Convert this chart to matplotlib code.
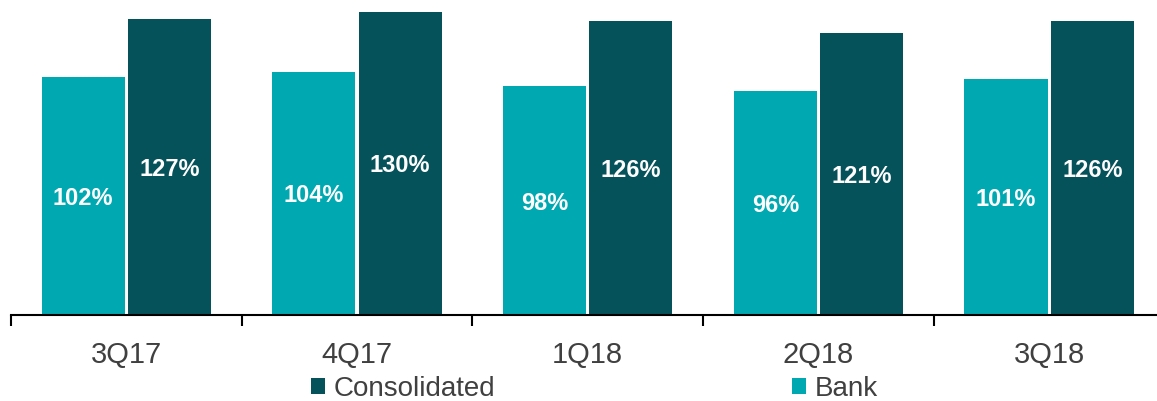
import numpy as np
import matplotlib
matplotlib.use("Agg")
import matplotlib.pyplot as plt

plt.rcParams['font.family'] = ['Liberation Sans', 'DejaVu Sans']

quarters = ['3Q17', '4Q17', '1Q18', '2Q18', '3Q18']
bank = [102, 104, 98, 96, 101]
consolidated = [127, 130, 126, 121, 126]

bank_color = '#00A9B1'
cons_color = '#05525B'

fig = plt.figure(figsize=(11.57, 4.01), dpi=100)
ax = fig.add_axes([11 / 1157, 86 / 401, 1153.5 / 1157, 315 / 401])

x = np.arange(len(quarters))
w = 0.36
off = 0.187
b1 = ax.bar(x - off, bank, w, color=bank_color, label='Bank')
b2 = ax.bar(x + off, consolidated, w, color=cons_color, label='Consolidated')

for bars, vals in ((b1, bank), (b2, consolidated)):
    for r, v in zip(bars, vals):
        ax.text(r.get_x() + r.get_width() / 2, v / 2 - 1, f'{v}%', ha='center', va='center',
                color='white', fontsize=17, fontweight='bold')

ax.set_xlim(-0.5, len(quarters) - 0.5)
ax.set_ylim(0, 135)
for s in ('top', 'right', 'left'):
    ax.spines[s].set_visible(False)
ax.spines['bottom'].set_linewidth(1.5)
ax.set_yticks([])

ax.set_xticks(x)
ax.set_xticklabels(quarters, fontsize=21, color='#404040')
ax.tick_params(axis='x', which='major', length=0, pad=19)
ax.set_xticks(np.arange(len(quarters) + 1) - 0.5, minor=True)
ax.tick_params(axis='x', which='minor', length=8, width=1.5, direction='out')

fig.legend(handles=[b2, b1], labels=['Consolidated', 'Bank'], ncol=2, loc='center left',
           bbox_to_anchor=(311 / 1157, 12 / 401), frameon=False, fontsize=20,
           handlelength=0.5, handleheight=0.5, handletextpad=0.3, columnspacing=10.7,
           borderpad=0, borderaxespad=0, labelcolor='#404040')

fig.savefig('out.png', dpi=100)
